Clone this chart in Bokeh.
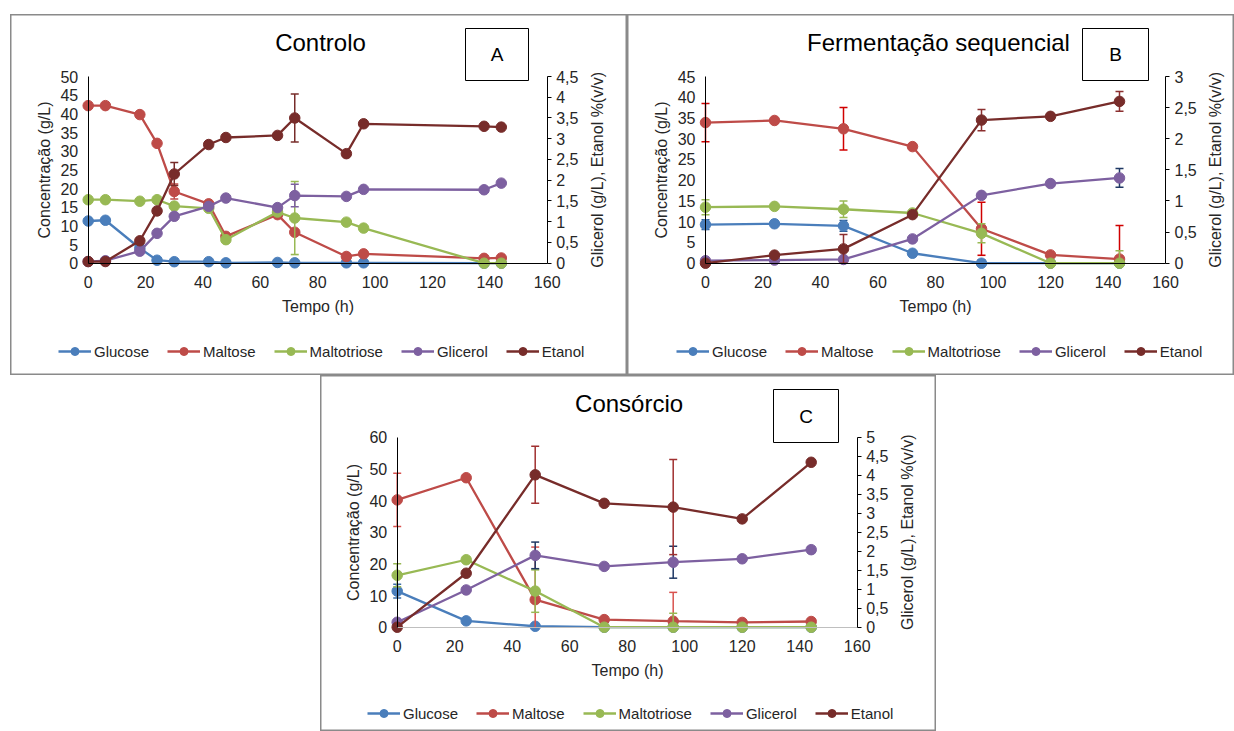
import math
from bokeh.plotting import figure
from bokeh.models import (Range1d, LinearAxis, FixedTicker, Legend, LegendItem, Label,
                          Spacer, CustomJSTickFormatter, BoxAnnotation)
from bokeh.layouts import row, column
from bokeh.embed import file_html
from bokeh.resources import INLINE

# ---------------- data ----------------
SERIES = ["Glucose", "Maltose", "Maltotriose", "Glicerol", "Etanol"]
RIGHT_SERIES = ["Glicerol", "Etanol"]

# Panel A - Controlo
tA = [0, 6, 18, 24, 30, 42, 48, 66, 72, 90, 96, 138, 144]
A_glucose = [11.3, 11.5, 4.0, 0.8, 0.4, 0.4, 0.1, 0.2, 0.1, 0.1, 0.1, 0.0, 0.0]
A_maltose = [42.2, 42.2, 39.8, 32.1, 19.2, 15.9, 7.2, 13.0, 8.3, 1.8, 2.5, 1.3, 1.4]
A_maltotriose = [17.0, 17.0, 16.6, 17.0, 15.3, 14.7, 6.3, 13.7, 12.1, 11.0, 9.4, 0.0, 0.0]
A_glicerol = [0.04, 0.06, 0.29, 0.72, 1.13, 1.37, 1.57, 1.34, 1.63, 1.61, 1.78, 1.77, 1.93]
A_etanol = [0.04, 0.04, 0.54, 1.26, 2.15, 2.86, 3.03, 3.08, 3.50, 2.64, 3.36, 3.30, 3.28]
A_errors = [("Maltose", 30, 2.0), ("Etanol", 30, 0.28), ("Maltotriose", 72, 9.8),
            ("Glicerol", 72, 0.27), ("Etanol", 72, 0.58)]

# Panel B - Fermentação sequencial
tB = [0, 24, 48, 72, 96, 120, 144]
B_glucose = [9.3, 9.5, 9.0, 2.4, 0.0, 0.0, 0.0]
B_maltose = [33.9, 34.4, 32.4, 28.1, 8.3, 2.0, 1.0]
B_maltotriose = [13.5, 13.7, 13.0, 12.1, 7.2, 0.0, 0.0]
B_glicerol = [0.04, 0.05, 0.06, 0.39, 1.09, 1.28, 1.37]
B_etanol = [0.0, 0.13, 0.23, 0.78, 2.30, 2.36, 2.60]
B_errors = [("Glucose", 0, 1.2), ("Maltose", 0, 4.6), ("Maltotriose", 0, 1.8),
            ("Glucose", 48, 1.3), ("Maltose", 48, 5.1), ("Maltotriose", 48, 2.0),
            ("Etanol", 48, 0.23), ("Glucose", 96, 0.8), ("Maltose", 96, 6.4),
            ("Maltotriose", 96, 2.3), ("Etanol", 96, 0.17), ("Maltose", 144, 8.1),
            ("Maltotriose", 144, 3.0), ("Etanol", 144, 0.16), ("Glicerol", 144, 0.15)]

# Panel C - Consórcio
tC = [0, 24, 48, 72, 96, 120, 144]
C_glucose = [11.4, 2.0, 0.3, 0.0, 0.0, 0.0, 0.0]
C_maltose = [40.2, 47.2, 8.7, 2.4, 1.9, 1.5, 1.8]
C_maltotriose = [16.4, 21.3, 11.4, 0.0, 0.0, 0.0, 0.0]
C_glicerol = [0.13, 0.98, 1.89, 1.60, 1.71, 1.80, 2.04]
C_etanol = [0.0, 1.42, 4.01, 3.26, 3.16, 2.85, 4.34]
C_errors = [("Glucose", 0, 2.2), ("Maltose", 0, 8.4), ("Maltotriose", 0, 3.6),
            ("Maltose", 48, 16.6), ("Maltotriose", 48, 6.7), ("Glicerol", 48, 0.35),
            ("Etanol", 48, 0.75), ("Maltose", 96, 9.1), ("Maltotriose", 96, 4.4),
            ("Glicerol", 96, 0.42), ("Etanol", 96, 1.25), ("Glicerol", 144, 0.08)]

X_MAX = 160
X_TICKS = [0, 20, 40, 60, 80, 100, 120, 140, 160]

# ---------------- styles / layout ----------------
FONT = "Liberation Sans"
COLORS = {"Glucose": "#4A7EBB", "Maltose": "#BE4B48", "Maltotriose": "#98B954",
          "Glicerol": "#7D60A0", "Etanol": "#772C2A"}
ERR_A = {"Glucose": "#4A7EBB", "Maltose": "#BE4B48", "Maltotriose": "#98B954",
         "Glicerol": "#7D60A0", "Etanol": "#772C2A"}
ERR_B = {"Glucose": "#2C5C93", "Maltose": "#D00000", "Maltotriose": "#98B954",
         "Glicerol": "#1F3864", "Etanol": "#8B2F2F"}
ERR_C = {"Glucose": "#3D6FA8", "Maltose": "#D9534F", "Maltotriose": "#98B954",
         "Glicerol": "#1F3864", "Etanol": "#A03030"}
TEXT = "#262626"

# canvas geometry of each panel (pixels from the canvas top-left)
GEO_A = dict(W=617, H=361, fx0=77.7, fx1=536.7, fy0=248.7, fy1=62.0,
             title=(310, 28), box=(455, 14, 518, 66), legend=(48, 337))
GEO_B = dict(W=607, H=361, fx0=78.0, fx1=538.0, fy0=248.7, fy1=62.0,
             title=(311, 28), box=(455, 14, 521, 66), legend=(49, 337))
GEO_C = dict(W=616, H=356, fx0=76.7, fx1=536.7, fy0=251.7, fy1=61.7,
             title=(308.6, 28), box=(453, 14, 518, 67), legend=(47, 338))


def comma_fmt():
    return CustomJSTickFormatter(code="return String(tick).replace('.', ',');")


def style_axis(ax, color="black"):
    ax.axis_line_color = color
    ax.axis_line_width = 1
    ax.major_tick_in = 0
    ax.major_tick_out = 0
    ax.minor_tick_in = 0
    ax.minor_tick_out = 0
    ax.major_label_text_font = FONT
    ax.major_label_text_font_size = "16px"
    ax.major_label_text_color = TEXT
    ax.axis_label_text_font = FONT
    ax.axis_label_text_font_size = "16px"
    ax.axis_label_text_font_style = "normal"
    ax.axis_label_text_color = TEXT


def make_panel(title, letter, times, values, errors, err_colors,
               left_max, left_step, right_max, right_step, g, xaxis_color):
    W, H = g["W"], g["H"]
    sx = (g["fx1"] - g["fx0"]) / X_MAX
    sy = (g["fy0"] - g["fy1"]) / left_max
    x0 = -g["fx0"] / sx
    x1 = X_MAX + (W - g["fx1"]) / sx
    y0 = -(H - g["fy0"]) / sy
    y1 = left_max + g["fy1"] / sy
    k = right_max / left_max

    p = figure(width=W, height=H, x_range=Range1d(x0, x1), y_range=Range1d(y0, y1),
               output_backend="svg", toolbar_location=None,
               min_border_left=0, min_border_right=0, min_border_top=0,
               min_border_bottom=0)
    p.extra_y_ranges = {"right": Range1d(y0 * k, y1 * k)}
    p.outline_line_color = "#8A8A8A"
    p.outline_line_width = 2
    p.xgrid.visible = False
    p.ygrid.visible = False

    # x axis
    xax = p.xaxis[0]
    style_axis(xax, xaxis_color)
    xax.ticker = FixedTicker(ticks=X_TICKS)
    xax.bounds = (0, X_MAX)
    xax.fixed_location = 0
    xax.axis_label = "Tempo (h)"
    xax.major_label_standoff = 13
    xax.axis_label_standoff = 6

    # left axis
    yax = p.yaxis[0]
    style_axis(yax)
    n_left = int(round(left_max / left_step))
    yax.ticker = FixedTicker(ticks=[i * left_step for i in range(n_left + 1)])
    yax.formatter = comma_fmt()
    yax.bounds = (0, left_max)
    yax.fixed_location = 0
    yax.axis_label = "Concentração (g/L)"
    yax.major_label_standoff = 10
    yax.axis_label_standoff = 5

    # right axis
    n_right = int(round(right_max / right_step))
    rax = LinearAxis(y_range_name="right",
                     ticker=FixedTicker(ticks=[i * right_step for i in range(n_right + 1)]),
                     formatter=comma_fmt())
    style_axis(rax)
    rax.major_tick_out = 4
    rax.major_label_standoff = 5
    rax.bounds = (0, right_max)
    rax.fixed_location = X_MAX
    p.add_layout(rax, "right")

    items = []
    for name in SERIES:
        rng = "right" if name in RIGHT_SERIES else "default"
        top = right_max if name in RIGHT_SERIES else left_max
        ys = values[name]
        col = COLORS[name]
        lr = p.line(times, ys, line_color=col, line_width=2.3, y_range_name=rng)
        ex, lo, hi, cx, cy = [], [], [], [], []
        for (s, t, e) in errors:
            if s == name:
                v = ys[times.index(t)]
                a, b = v - e, v + e
                ex.append(t)
                lo.append(max(a, 0))
                hi.append(min(b, top))
                if a >= 0:
                    cx.append(t); cy.append(a)
                if b <= top:
                    cx.append(t); cy.append(b)
        if ex:
            ec = err_colors[name]
            p.segment(x0=ex, y0=lo, x1=ex, y1=hi, line_color=ec, line_width=1.5,
                      y_range_name=rng)
            p.scatter(x=cx, y=cy, marker="dash", size=8, line_color=ec,
                      line_width=1.5, y_range_name=rng)
        sr = p.scatter(times, ys, marker="circle", size=10.5, fill_color=col,
                       line_color=col, y_range_name=rng)
        items.append(LegendItem(label=name, renderers=[lr, sr]))

    lx, lcy = g["legend"]
    legend = Legend(items=items, orientation="horizontal",
                    location=(lx, H - (lcy + 10)),
                    glyph_width=33, glyph_height=20, label_standoff=3, spacing=18,
                    padding=0, margin=0, border_line_color=None,
                    background_fill_alpha=0, label_text_font=FONT,
                    label_text_font_size="15px", label_text_color=TEXT)
    p.add_layout(legend)

    # right axis title (reads bottom-to-top like the reference)
    p.add_layout(Label(x=g["fx1"] + 50, y=H - (g["fy0"] + g["fy1"]) / 2,
                       x_units="screen", y_units="screen", angle=math.pi / 2,
                       text="Glicerol (g/L), Etanol %(v/v)", text_align="center",
                       text_baseline="middle", text_font=FONT, text_font_size="16px",
                       text_color=TEXT))

    tx, ty = g["title"]
    p.add_layout(Label(x=tx, y=H - ty, x_units="screen", y_units="screen",
                       text=title, text_align="center", text_baseline="middle",
                       text_font=FONT, text_font_size="24px", text_color="black"))
    bx0, by0, bx1, by1 = g["box"]
    p.add_layout(BoxAnnotation(left=bx0, right=bx1, top=H - by0, bottom=H - by1,
                               left_units="screen", right_units="screen",
                               top_units="screen", bottom_units="screen",
                               fill_color="white", fill_alpha=1, line_color="black",
                               line_width=1, line_alpha=1))
    p.add_layout(Label(x=(bx0 + bx1) / 2, y=H - (by0 + by1) / 2, x_units="screen",
                       y_units="screen", text=letter, text_align="center",
                       text_baseline="middle", text_font=FONT, text_font_size="19px",
                       text_color="black"))
    return p


pA = make_panel("Controlo", "A", tA,
                {"Glucose": A_glucose, "Maltose": A_maltose, "Maltotriose": A_maltotriose,
                 "Glicerol": A_glicerol, "Etanol": A_etanol},
                A_errors, ERR_A, 50, 5, 4.5, 0.5, GEO_A, "black")
pB = make_panel("Fermentação sequencial", "B", tB,
                {"Glucose": B_glucose, "Maltose": B_maltose, "Maltotriose": B_maltotriose,
                 "Glicerol": B_glicerol, "Etanol": B_etanol},
                B_errors, ERR_B, 45, 5, 3, 0.5, GEO_B, "black")
pC = make_panel("Consórcio", "C", tC,
                {"Glucose": C_glucose, "Maltose": C_maltose, "Maltotriose": C_maltotriose,
                 "Glicerol": C_glicerol, "Etanol": C_etanol},
                C_errors, ERR_C, 60, 10, 5, 0.5, GEO_C, "#BFBFBF")

layout = column(Spacer(height=14, width=10),
                row(Spacer(width=10, height=10), pA, pB),
                row(Spacer(width=320, height=10), pC))

open("out.html", "w").write(file_html(layout, INLINE))
